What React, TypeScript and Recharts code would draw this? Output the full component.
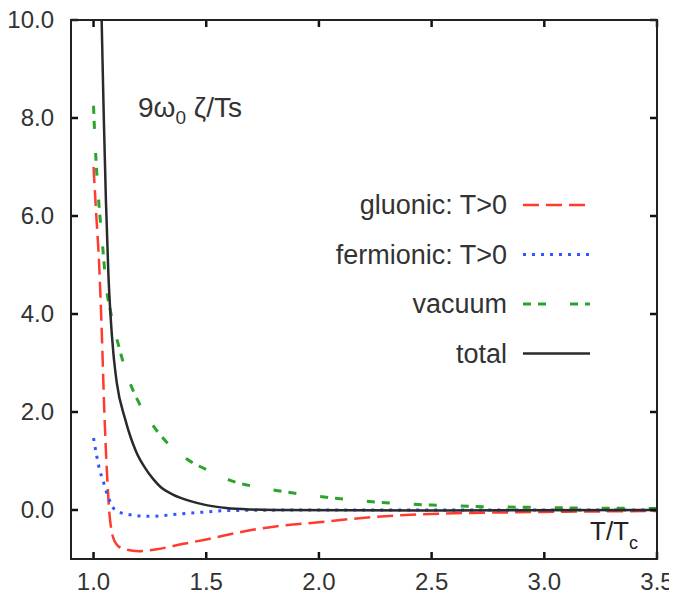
import { LineChart, Line, XAxis, YAxis } from 'recharts';

const FONT = '"Liberation Sans", Arial, Helvetica, sans-serif';

// axis ticks
const xTicks = [1.0, 1.5, 2.0, 2.5, 3.0, 3.5];
const yTicks = [0, 2, 4, 6, 8, 10];
const xDomain: [number, number] = [0.9, 3.5];
const yDomain: [number, number] = [-1, 10];

// [T/Tc, value] pairs for each contribution
const gluonic: [number, number][] = [
  [1.0, 7.0], [1.011, 6.1], [1.025, 5.0], [1.036, 3.7], [1.048, 2.0],
  [1.061, 0.63], [1.07, -0.05], [1.081, -0.45], [1.095, -0.65], [1.11, -0.74],
  [1.14, -0.8], [1.2, -0.84], [1.28, -0.8], [1.4, -0.69], [1.5, -0.6],
  [1.6, -0.5], [1.7, -0.41], [1.8, -0.34], [2.0, -0.25], [2.15, -0.18],
  [2.5, -0.08], [3.0, -0.04], [3.5, -0.02],
];

const fermionic: [number, number][] = [
  [1.0, 1.47], [1.011, 1.18], [1.026, 0.84], [1.044, 0.57], [1.063, 0.29],
  [1.092, 0.02], [1.14, -0.08], [1.25, -0.13], [1.38, -0.08], [1.5, -0.04],
  [1.6, -0.01], [2.0, 0.0], [3.5, 0.0],
];

const vacuum: [number, number][] = [
  [1.0, 8.25], [1.0035, 7.84], [1.019, 6.55], [1.039, 5.46], [1.056, 4.57],
  [1.076, 4.04], [1.115, 3.29], [1.14, 2.88], [1.2, 2.2], [1.244, 1.86],
  [1.34, 1.31], [1.414, 1.04], [1.547, 0.73], [1.61, 0.6], [1.75, 0.45],
  [1.81, 0.4], [1.98, 0.29], [2.18, 0.19], [2.5, 0.1], [3.0, 0.05], [3.5, 0.03],
];

const total: [number, number][] = [
  [1.03, 11.2], [1.036, 10.0], [1.045, 8.1], [1.055, 6.3], [1.066, 4.8],
  [1.075, 4.0], [1.088, 3.2], [1.103, 2.6], [1.14, 1.86], [1.19, 1.18],
  [1.23, 0.85], [1.265, 0.63], [1.3, 0.46], [1.35, 0.32], [1.43, 0.18],
  [1.5, 0.1], [1.59, 0.04], [1.7, 0.01], [1.8, 0.0], [2.5, -0.01], [3.5, 0.0],
];

const toRows = (pts: [number, number][]) => pts.map(([t, v]) => ({ t, v }));

const series = [
  { name: 'gluonic: T>0', data: gluonic, color: '#ff3b2f', dash: '16 7', width: 2.5 },
  { name: 'fermionic: T>0', data: fermionic, color: '#3355ff', dash: '3 6', width: 3 },
  { name: 'vacuum', data: vacuum, color: '#2aa52a', dash: '8 7 8 24', width: 3 },
  { name: 'total', data: total, color: '#2a2a2a', dash: undefined, width: 2.5 },
];

const W = 669;
const H = 596;
const Y_AXIS_W = 63;
const X_AXIS_H = 37;
const PLOT_TOP = 20;
const PLOT_RIGHT = W - 20;
const PLOT_BOTTOM = H - X_AXIS_H;

const TICK_IN = 7;
const AXIS = '#222';

// gnuplot-style ticks: pointing inwards, mirrored on the opposite border
function BottomTick({ x, y, payload }: any) {
  const axisY = y - 14;
  return (
    <g>
      <line x1={x} x2={x} y1={axisY} y2={axisY - TICK_IN} stroke="#111" strokeWidth={2.5} />
      <line x1={x} x2={x} y1={PLOT_TOP} y2={PLOT_TOP + TICK_IN} stroke="#111" strokeWidth={2.5} />
      <text x={x} y={y} dy="0.71em" textAnchor="middle" fontSize={24} fill="#333" fontFamily={FONT}>
        {payload.value.toFixed(1)}
      </text>
    </g>
  );
}

function LeftTick({ x, y, payload }: any) {
  const axisX = x + 17;
  return (
    <g>
      <line x1={axisX} x2={axisX + TICK_IN} y1={y} y2={y} stroke="#111" strokeWidth={2.5} />
      <line x1={PLOT_RIGHT} x2={PLOT_RIGHT - TICK_IN} y1={y} y2={y} stroke="#111" strokeWidth={2.5} />
      <text x={x} y={y} dy="0.35em" textAnchor="end" fontSize={24} fill="#333" fontFamily={FONT}>
        {payload.value.toFixed(1)}
      </text>
    </g>
  );
}

export default function App() {
  const legendTop = 205;
  const legendStep = 49.5;

  return (
    <div style={{ position: 'relative', width: W, height: H, marginTop: -8 }}>
      <LineChart width={W} height={H} margin={{ top: PLOT_TOP, right: W - PLOT_RIGHT, bottom: 0, left: 0 }}>
        <XAxis
          dataKey="t"
          type="number"
          domain={xDomain}
          ticks={xTicks}
          allowDataOverflow
          height={X_AXIS_H}
          tickSize={0}
          tickMargin={14}
          axisLine={false}
          tick={<BottomTick />}
        />
        <YAxis
          type="number"
          domain={yDomain}
          ticks={yTicks}
          allowDataOverflow
          width={Y_AXIS_W}
          tickSize={0}
          tickMargin={17}
          axisLine={false}
          tick={<LeftTick />}
        />
        {series.map((s) => (
          <Line
            key={s.name}
            data={toRows(s.data)}
            dataKey="v"
            name={s.name}
            type="monotone"
            stroke={s.color}
            strokeWidth={s.width}
            strokeDasharray={s.dash}
            dot={false}
            activeDot={false}
            isAnimationActive={false}
          />
        ))}
      </LineChart>

      {/* plot frame, in-plot annotation, axis title and key */}
      <svg
        width={W}
        height={H}
        style={{ position: 'absolute', left: 0, top: 0, pointerEvents: 'none' }}
        fontFamily={FONT}
      >
        <rect
          x={Y_AXIS_W}
          y={PLOT_TOP}
          width={PLOT_RIGHT - Y_AXIS_W}
          height={PLOT_BOTTOM - PLOT_TOP}
          fill="none"
          stroke={AXIS}
          strokeWidth={2}
        />
        <text x={130} y={117} fontSize={28} fill="#333">
          9ω<tspan fontSize={19} dy={7}>0</tspan>
          <tspan dy={-7}> ζ/Ts</tspan>
        </text>
        <text x={582} y={540} fontSize={26} fill="#222">
          T/T<tspan fontSize={18} dy={9}>c</tspan>
        </text>
        {series.map((s, i) => {
          const cy = legendTop + i * legendStep;
          return (
            <g key={s.name}>
              <text x={499} y={cy} dy="0.35em" textAnchor="end" fontSize={27} fill="#333">
                {s.name}
              </text>
              <line
                x1={515}
                x2={582}
                y1={cy}
                y2={cy}
                stroke={s.color}
                strokeWidth={s.width}
                strokeDasharray={s.dash}
              />
            </g>
          );
        })}
      </svg>
    </div>
  );
}
